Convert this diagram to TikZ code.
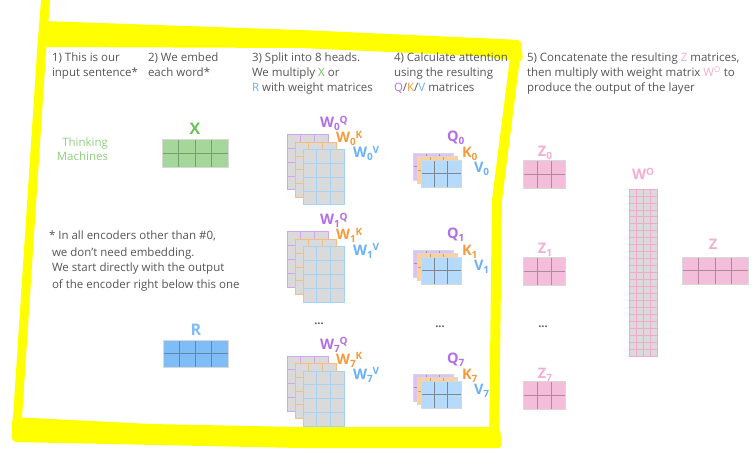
\documentclass[tikz,border=0pt]{standalone}
\usepackage{fontspec}
\setmainfont{Open Sans}
\definecolor{txt}{HTML}{555555}
\definecolor{hl}{HTML}{FFFF00}
\definecolor{tgreen}{HTML}{8FD17F}
\definecolor{lgreen}{HTML}{6CC25A}
\definecolor{mgreen}{HTML}{A6D79A}
\definecolor{dgreen}{HTML}{74A06C}
\definecolor{lblue}{HTML}{6AB2F5}
\definecolor{mblue}{HTML}{80BDF6}
\definecolor{dblue}{HTML}{5F86AD}
\definecolor{lpurple}{HTML}{B36FE3}
\definecolor{lorange}{HTML}{F39B3F}
\definecolor{wgray}{HTML}{DADADA}
\definecolor{gpurple}{HTML}{CFA6EF}
\definecolor{gorange}{HTML}{F6BE7C}
\definecolor{gblue}{HTML}{A6D2F8}
\definecolor{qfill}{HTML}{DCC3F3}
\definecolor{qline}{HTML}{A88DBB}
\definecolor{kfill}{HTML}{FBD29E}
\definecolor{kline}{HTML}{C9A06F}
\definecolor{vfill}{HTML}{B6DAFC}
\definecolor{vline}{HTML}{7D8790}
\definecolor{zfill}{HTML}{F4BDD9}
\definecolor{zline}{HTML}{B0899C}
\definecolor{zlab}{HTML}{F4AED1}
\definecolor{wline}{HTML}{F2A9CD}
\definecolor{edge}{HTML}{D8D8D8}
\newcommand\mygrid[9]{%
  \fill[#7] (#1,#2) rectangle ++(#3,#4);
  \foreach \i in {0,...,#5} \draw[#8] ({#1+\i*(#3)/(#5)},#2) -- ++(0,#4);
  \foreach \j in {0,...,#6} \draw[#8] (#1,{#2+\j*(#4)/(#6)}) -- ++(#3,0);
  \draw[#9] (#1,#2) rectangle ++(#3,#4);
}
\newcommand\wl[3]{#1\raisebox{-3pt}{\fontsize{10}{10}\selectfont #2}\raisebox{4.5pt}{\fontsize{10}{10}\selectfont #3}}
\begin{document}
\begin{tikzpicture}[x=1pt,y=-1pt,
  every node/.style={inner sep=0pt,outer sep=0pt},
  hdr/.style={anchor=base west,text=txt,font=\fontsize{11.5}{13}\selectfont},
  lab/.style={anchor=base west,font=\fontsize{14.5}{14.5}\selectfont\bfseries},
  dots/.style={text=txt,font=\fontsize{11}{11}\selectfont\bfseries}]
\useasboundingbox (0,0) rectangle (755,449);
\fill[white] (0,0) rectangle (755,449);
% highlight
\draw[hl,line width=9pt,line cap=round,line join=round] (46,-5) -- (42,45) -- (17,425);
\fill[hl,rounded corners=4pt] (42,21) -- (300,30) -- (521,40) -- (523,62) -- (480,56) -- (300,48) -- (42,47) -- cycle;
\draw[hl,line width=10pt,line cap=round,line join=round] (516,50) -- (497,200) -- (494,442);
\fill[hl,rounded corners=4pt] (12,417) -- (150,424) -- (300,427) -- (500,427) -- (502,448) -- (300,448) -- (12,442) -- cycle;
% headers
\node[hdr] (h1a) at (52,61.5) {1) This is our};
\node[hdr] (h1b) at (52,76.5) {input sentence*};
\node[hdr] (h2a) at (148,61.5) {2) We embed};
\node[hdr] (h2b) at (148,76.5) {each word*};
\node[hdr] (h3a) at (252,61.5) {3) Split into 8 heads.};
\node[hdr] (h3b) at (252,76.5) {We multiply \textcolor{lgreen}{X} or};
\node[hdr] (h3c) at (252,91.5) {\textcolor{lblue}{R} with weight matrices};
\node[hdr] (h4a) at (394,61.5) {4) Calculate attention};
\node[hdr] (h4b) at (394,76.5) {using the resulting};
\node[hdr] (h4c) at (394,91.5) {\textcolor{lpurple}{Q}/\textcolor{lorange}{K}/\textcolor{lblue}{V} matrices};
\node[hdr] (h5a) at (527,61.5) {5) Concatenate the resulting \textcolor{zlab}{Z} matrices,};
\node[hdr] (h5b) at (527,76.5) {then multiply with weight matrix \textcolor{zlab}{W\textsuperscript{O}} to};
\node[hdr] (h5c) at (527,91.5) {produce the output of the layer};
% input
\node[anchor=base east,text=tgreen,font=\fontsize{11.5}{12}\selectfont] (think) at (108,147) {Thinking};
\node[anchor=base east,text=tgreen,font=\fontsize{11.5}{12}\selectfont] (mach) at (108,161) {Machines};
% footnote
\node[hdr] (f1) at (49,240) {* In all encoders other than \#0,};
\node[hdr] (f2) at (52,256) {we don’t need embedding.};
\node[hdr] (f3) at (52,272) {We start directly with the output};
\node[hdr] (f4) at (52,288) {of the encoder right below this one};
% X and R
\node[lab,anchor=base,text=lgreen,font=\fontsize{16}{16}\selectfont\bfseries] (xl) at (195,135) {X};
\mygrid{162}{139}{66}{28}{4}{2}{mgreen}{dgreen,line width=0.9pt}{edge,line width=0.6pt}
\node[lab,anchor=base,text=lblue!85,font=\fontsize{16}{16}\selectfont\bfseries] (rl) at (196,335) {R};
\mygrid{163}{340}{65}{27}{4}{2}{mblue}{dblue,line width=0.9pt}{edge,line width=0.6pt}
% heads
\foreach \k/\d in {0/0,1/97,7/221}{
  \mygrid{287}{135+\d}{41}{55}{3}{4}{wgray}{gpurple,line width=1pt}{gpurple,line width=1pt}
  \mygrid{295}{142.5+\d}{41}{55}{3}{4}{wgray}{gorange,line width=1pt}{gorange,line width=1pt}
  \mygrid{303}{150+\d}{41}{55}{3}{4}{wgray}{gblue,line width=1pt}{gblue,line width=1pt}
  \node[lab,text=lpurple] (wq\k) at (320,128+\d) {\wl{W}{\k}{Q}};
  \node[lab,text=lorange] (wk\k) at (336,143+\d) {\wl{W}{\k}{K}};
  \node[lab,text=lblue] (wv\k) at (353,158+\d) {\wl{W}{\k}{V}};
  \mygrid{413}{153+\d}{40}{27}{3}{2}{qfill}{qline,line width=0.8pt}{edge,line width=0.6pt}
  \mygrid{417}{156.5+\d}{40}{27}{3}{2}{kfill}{kline,line width=0.8pt}{edge,line width=0.6pt}
  \mygrid{421}{160+\d}{40}{27}{3}{2}{vfill}{vline,line width=0.8pt}{edge,line width=0.6pt}
  \node[lab,text=lpurple] (q\k) at (447,142+\d) {\wl{Q}{\k}{}};
  \node[lab,text=lorange] (kk\k) at (462,158+\d) {\wl{K}{\k}{}};
  \node[lab,text=lblue] (v\k) at (474,173+\d) {\wl{V}{\k}{}};
  \mygrid{523}{160+\d}{42}{28}{3}{2}{zfill}{zline,line width=0.8pt}{edge,line width=0.6pt}
  \node[lab,anchor=base,text=zlab] (z\k) at (545,157+\d) {\wl{Z}{\k}{}};
}
\node[dots] (d3) at (319,324) {...};
\node[dots] (d4) at (440,327) {...};
\node[dots] (d5) at (543,327) {...};
% W^O
\node[lab,anchor=base,text=zlab] (wol) at (643,180) {W\raisebox{4.5pt}{\fontsize{10}{10}\selectfont O}};
\mygrid{629}{189}{28}{167}{4}{24}{wgray}{wline,line width=0.7pt}{wline,line width=0.7pt}
% Z
\node[lab,anchor=base,text=zlab] (zl) at (713,249) {Z};
\mygrid{682}{257}{66}{27}{4}{2}{zfill}{zline,line width=0.8pt}{edge,line width=0.6pt}
\end{tikzpicture}
\end{document}
